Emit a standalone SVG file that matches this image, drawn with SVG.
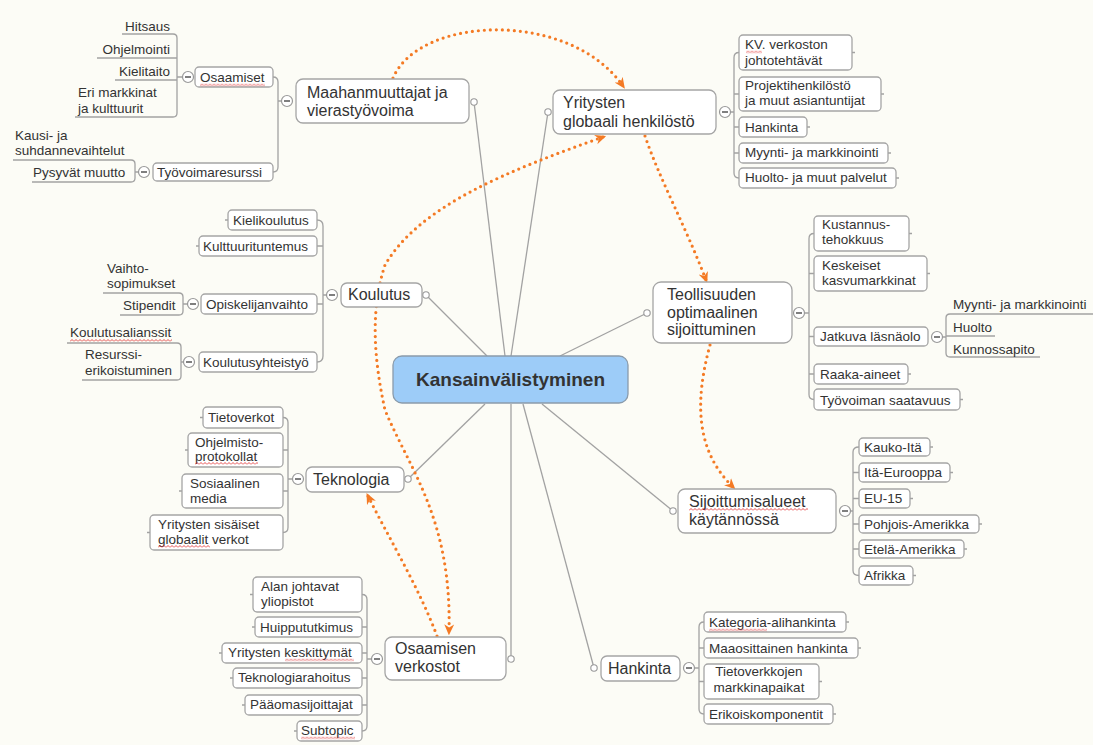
<svg xmlns="http://www.w3.org/2000/svg" width="1093" height="745" viewBox="0 0 1093 745">
<defs>
<style>
text{font-family:"Liberation Sans",Arial,sans-serif;fill:#333;}
.t16{font-size:16px;}
.t13{font-size:13.5px;}
.box{fill:#fff;stroke:#a5a5a5;stroke-width:1.3;}
.ln{fill:none;stroke:#a2a2a2;stroke-width:1.3;}
.rel{fill:none;stroke:#f47a24;stroke-width:3.2;stroke-dasharray:0 6;stroke-linecap:round;}
</style>
<marker id="ah" viewBox="0 0 10 10" refX="7" refY="5" markerWidth="11" markerHeight="11" markerUnits="userSpaceOnUse" orient="auto-start-reverse">
<path d="M0,0.5 L10,5 L0,9.5 L3,5 Z" fill="#f47a24"/>
</marker>
<g id="minus"><circle r="5.5" fill="#fff" stroke="#999" stroke-width="1.2"/><path d="M-3,0H3" stroke="#555" stroke-width="1.5"/></g>
<circle id="dot" r="3.2" fill="#fff" stroke="#999" stroke-width="1.1"/>
<pattern id="sq" patternUnits="userSpaceOnUse" width="4" height="3"><path d="M0,2.5 L2,0.5 L4,2.5" fill="none" stroke="#e02020" stroke-width="0.8"/></pattern>
</defs>
<rect width="1093" height="745" fill="#fcfcf6"/>

<g id="connectors">
<path class="ln" d="M474,102 L505,356"/>
<path class="ln" d="M548,112 L511,356"/>
<path class="ln" d="M426,295 L487,356"/>
<path class="ln" d="M647,313 L560,356"/>
<path class="ln" d="M408,479 L485,404"/>
<path class="ln" d="M511,656 L511,404"/>
<path class="ln" d="M594,668 L523,404"/>
<path class="ln" d="M673,511 L542,404"/>
<!-- Maahanmuuttajat brackets -->
<path class="ln" d="M273,77 Q278,77 278,82 V167 Q278,172 273,172 M278,101 H281.5"/>
<path class="ln" d="M122,34 H173 Q177,34 177,38 V113 Q177,117 173,117 H75 M97,58 H177 M115,80 H177 M177,77 H182.5"/>
<path class="ln" d="M13,160 H131 Q135,160 135,164 V178 Q135,182 131,182 H32 M135,172 H138.5"/>
<!-- Yritysten bracket -->
<path class="ln" d="M739,52.5 Q734,52.5 734,57.5 V173 Q734,178 739,178 M734,94 H739 M734,127 H739 M734,153 H739 M730.5,112 H734"/>
<!-- Koulutus brackets -->
<path class="ln" d="M317,220 Q323,220 323,226 V356 Q323,362 317,362 M323,246 H317 M323,304 H317 M323,295 H326.5"/>
<path class="ln" d="M103,293 H179 Q183,293 183,297 V311 Q183,315 179,315 H120 M183,304 H187.5"/>
<path class="ln" d="M67,343 H177 Q181,343 181,347 V376 Q181,380 177,380 H82 M181,362 H183.5"/>
<!-- Teollisuuden brackets -->
<path class="ln" d="M814,233.5 Q809,233.5 809,238.5 V394.5 Q809,399.5 814,399.5 M809,273.5 H814 M809,336.5 H814 M809,374 H814 M804.5,313 H809"/>
<path class="ln" d="M1093,314 H950 Q946,314 946,318 V353 Q946,357 950,357 H1040 M946,336 H995 M942.5,337 H946"/>
<!-- Sijoittumisalueet bracket -->
<path class="ln" d="M859,447 Q853,447 853,452 V570.5 Q853,575.5 859,575.5 M853,472.5 H859 M853,498.5 H859 M853,524 H859 M853,549 H859 M850.5,511 H853"/>
<!-- Teknologia bracket -->
<path class="ln" d="M283,417.5 Q288,417.5 288,422.5 V527.5 Q288,532.5 283,532.5 M288,450 H283 M288,491 H283 M288,479 H292.5"/>
<!-- Osaamisen bracket -->
<path class="ln" d="M362,594.5 Q367,594.5 367,599.5 V726 Q367,731 362,731 M367,627 H362 M367,653 H362 M367,678 H362 M367,705 H362 M367,659 H371.5"/>
<!-- Hankinta bracket -->
<path class="ln" d="M704,622 Q699,622 699,627 V709 Q699,714 704,714 M699,648 H704 M699,681.5 H704 M694.5,668 H699"/>
<!-- stubs -->
<path class="ln" d="M852,52.5h3 M881,94h3 M807,127h3 M888,153h3 M896,178h3 M909,233.5h3 M927,273.5h3 M908,374h3 M960,399.5h3 M930,447h3 M950,472.5h3 M910,498.5h3 M979,524h3 M964,549h3 M913,575.5h3 M846,622h3 M858,648h3 M819,681.5h3 M833,714h3 M228,220h-3 M199,246h-3 M203,417.5h-3 M188,450h-3 M182,491h-3 M150,532.5h-3 M253,594.5h-3 M255,627h-3 M222,653h-3 M233,678h-3 M245,705h-3 M297,731h-3"/>
<!-- relationships -->
<path class="rel" d="M393,78 C420,15 570,10 623,86" marker-end="url(#ah)"/>
<path class="rel" d="M645,136 C660,180 685,225 706,280" marker-end="url(#ah)"/>
<path class="rel" d="M710,345 C695,400 695,450 733,487" marker-end="url(#ah)"/>
<path class="rel" d="M603,137 C510,170 420,205 385,265 C370,310 374,360 385,410 C410,470 452,520 449,632" marker-start="url(#ah)" marker-end="url(#ah)"/>
<path class="rel" d="M437,636 C420,590 390,540 368,496" marker-end="url(#ah)"/>
</g>

<g id="center">
<rect x="393" y="356" width="235" height="47" rx="9" fill="#9dccf8" stroke="#8a9bab" stroke-width="1.3"/>
<text x="510.5" y="386" text-anchor="middle" font-weight="bold" font-size="19">Kansainvälistyminen</text>
</g>

<g id="maahanmuuttajat">
<rect class="box" x="296" y="79" width="173" height="44" rx="7"/>
<text class="t16" x="307" y="98">Maahanmuuttajat ja</text>
<text class="t16" x="307" y="116">vierastyövoima</text>
<use href="#minus" x="287" y="101"/><use href="#dot" x="474" y="102"/>
</g>
<g id="osaamiset">
<rect class="box" x="195" y="67" width="78" height="20" rx="4"/>
<text class="t13" x="200" y="82">Osaamiset</text>
<rect transform="translate(200,83.5)" width="65" height="3" fill="url(#sq)"/>
<use href="#minus" x="188" y="77"/>
</g>
<g id="osaamiset-leaves">
<text class="t13" x="170" y="31" text-anchor="end">Hitsaus</text>
<text class="t13" x="170" y="54" text-anchor="end">Ohjelmointi</text>
<text class="t13" x="170" y="76" text-anchor="end">Kielitaito</text>
<text class="t13" x="78" y="97">Eri markkinat</text>
<text class="t13" x="78" y="113">ja kulttuurit</text>
</g>
<g id="tyovoimaresurssi">
<rect class="box" x="153" y="163" width="120" height="18" rx="4"/>
<text class="t13" x="157" y="177">Työvoimaresurssi</text>
<use href="#minus" x="144" y="172"/>
</g>
<g id="tyovoima-leaves">
<text class="t13" x="15" y="140">Kausi- ja</text>
<text class="t13" x="15" y="155">suhdannevaihtelut</text>
<text class="t13" x="33" y="177">Pysyvät muutto</text>
</g>

<g id="yritysten">
<rect class="box" x="553" y="90" width="163" height="44" rx="7"/>
<text class="t16" x="563" y="108">Yritysten</text>
<text class="t16" x="563" y="127">globaali henkilöstö</text>
<use href="#minus" x="725" y="112"/><use href="#dot" x="548" y="112"/>
</g>
<g id="yritysten-children">
<rect class="box" x="739" y="35" width="113" height="35" rx="4"/>
<text class="t13" x="745" y="49">KV. verkoston</text>
<text class="t13" x="745" y="65">johtotehtävät</text>
<rect transform="translate(746,50.5)" width="16" height="3" fill="url(#sq)"/>
<rect class="box" x="739" y="77" width="142" height="34" rx="4"/>
<text class="t13" x="745" y="90">Projektihenkilöstö</text>
<text class="t13" x="745" y="105">ja muut asiantuntijat</text>
<rect class="box" x="739" y="117" width="68" height="20" rx="4"/>
<text class="t13" x="745" y="132">Hankinta</text>
<rect class="box" x="739" y="143" width="149" height="20" rx="4"/>
<text class="t13" x="745" y="157">Myynti- ja markkinointi</text>
<rect class="box" x="739" y="168" width="157" height="20" rx="4"/>
<text class="t13" x="745" y="182">Huolto- ja muut palvelut</text>
</g>

<g id="koulutus">
<rect class="box" x="341" y="283" width="81" height="24" rx="6"/>
<text class="t16" x="348" y="300">Koulutus</text>
<use href="#minus" x="332" y="295"/><use href="#dot" x="426" y="295"/>
</g>
<g id="koulutus-children">
<rect class="box" x="228" y="210" width="89" height="20" rx="4"/>
<text class="t13" x="233" y="225">Kielikoulutus</text>
<rect class="box" x="199" y="236" width="118" height="20" rx="4"/>
<text class="t13" x="203" y="251">Kulttuurituntemus</text>
<rect class="box" x="201" y="294" width="116" height="20" rx="4"/>
<text class="t13" x="206" y="309">Opiskelijanvaihto</text>
<use href="#minus" x="193" y="304"/>
<rect class="box" x="199" y="352" width="118" height="20" rx="4"/>
<text class="t13" x="203" y="367">Koulutusyhteistyö</text>
<use href="#minus" x="189" y="362"/>
</g>
<g id="koulutus-leaves">
<text class="t13" x="107" y="273">Vaihto-</text>
<text class="t13" x="107" y="288">sopimukset</text>
<text class="t13" x="123" y="310">Stipendit</text>
<text class="t13" x="70" y="337">Koulutusalianssit</text>
<rect transform="translate(70,339)" width="102" height="3" fill="url(#sq)"/>
<text class="t13" x="85" y="359">Resurssi-</text>
<text class="t13" x="85" y="375">erikoistuminen</text>
</g>

<g id="teollisuuden">
<rect class="box" x="653" y="282" width="139" height="61" rx="8"/>
<text class="t16" x="667" y="300">Teollisuuden</text>
<text class="t16" x="667" y="317.5">optimaalinen</text>
<text class="t16" x="667" y="335">sijoittuminen</text>
<use href="#minus" x="799" y="313"/><use href="#dot" x="647" y="313"/>
</g>
<g id="teollisuuden-children">
<rect class="box" x="814" y="216" width="95" height="35" rx="4"/>
<text class="t13" x="822" y="229">Kustannus-</text>
<text class="t13" x="822" y="244">tehokkuus</text>
<rect class="box" x="814" y="256" width="113" height="35" rx="4"/>
<text class="t13" x="822" y="270">Keskeiset</text>
<text class="t13" x="822" y="285">kasvumarkkinat</text>
<rect class="box" x="814" y="327" width="114" height="19" rx="4"/>
<text class="t13" x="820" y="341">Jatkuva läsnäolo</text>
<use href="#minus" x="937" y="337"/>
<rect class="box" x="814" y="364" width="94" height="20" rx="4"/>
<text class="t13" x="820" y="379">Raaka-aineet</text>
<rect class="box" x="814" y="389" width="146" height="21" rx="4"/>
<text class="t13" x="820" y="405">Työvoiman saatavuus</text>
</g>
<g id="jatkuva-leaves">
<text class="t13" x="953" y="309">Myynti- ja markkinointi</text>
<text class="t13" x="953" y="332">Huolto</text>
<text class="t13" x="953" y="354">Kunnossapito</text>
</g>

<g id="sijoittumisalueet">
<rect class="box" x="678" y="489" width="158" height="44" rx="7"/>
<text class="t16" x="689" y="507">Sijoittumisalueet</text>
<text class="t16" x="689" y="525">käytännössä</text>
<rect transform="translate(689,508)" width="119" height="3" fill="url(#sq)"/>
<use href="#minus" x="845" y="511"/><use href="#dot" x="673" y="511"/>
</g>
<g id="sijoittumisalueet-children">
<rect class="box" x="859" y="438" width="71" height="18" rx="4"/>
<text class="t13" x="864" y="452">Kauko-Itä</text>
<rect class="box" x="859" y="463" width="91" height="19" rx="4"/>
<text class="t13" x="864" y="477">Itä-Eurooppa</text>
<rect class="box" x="859" y="489" width="51" height="19" rx="4"/>
<text class="t13" x="864" y="503">EU-15</text>
<rect class="box" x="859" y="515" width="120" height="18" rx="4"/>
<text class="t13" x="864" y="529">Pohjois-Amerikka</text>
<rect class="box" x="859" y="540" width="105" height="18" rx="4"/>
<text class="t13" x="864" y="554">Etelä-Amerikka</text>
<rect class="box" x="859" y="566" width="54" height="19" rx="4"/>
<text class="t13" x="864" y="580">Afrikka</text>
</g>

<g id="teknologia">
<rect class="box" x="306" y="467" width="98" height="25" rx="6"/>
<text class="t16" x="313" y="485">Teknologia</text>
<use href="#minus" x="298" y="479"/><use href="#dot" x="408" y="479"/>
</g>
<g id="teknologia-children">
<rect class="box" x="203" y="407" width="80" height="21" rx="4"/>
<text class="t13" x="208" y="422">Tietoverkot</text>
<rect class="box" x="188" y="433" width="95" height="34" rx="4"/>
<text class="t13" x="195" y="447">Ohjelmisto-</text>
<text class="t13" x="195" y="461">protokollat</text>
<rect transform="translate(195,462)" width="63" height="3" fill="url(#sq)"/>
<rect class="box" x="182" y="474" width="101" height="34" rx="4"/>
<text class="t13" x="190" y="488">Sosiaalinen</text>
<text class="t13" x="190" y="503">media</text>
<rect class="box" x="150" y="515" width="133" height="35" rx="4"/>
<text class="t13" x="158" y="529">Yritysten sisäiset</text>
<text class="t13" x="158" y="544">globaalit verkot</text>
<rect transform="translate(158,545)" width="52" height="3" fill="url(#sq)"/>
</g>

<g id="osaamisen-verkostot">
<rect class="box" x="385" y="637" width="121" height="43" rx="7"/>
<text class="t16" x="395" y="654">Osaamisen</text>
<text class="t16" x="395" y="672">verkostot</text>
<use href="#minus" x="377" y="659"/><use href="#dot" x="511" y="659"/>
</g>
<g id="osaamisen-children">
<rect class="box" x="253" y="577" width="109" height="35" rx="4"/>
<text class="t13" x="261" y="591">Alan johtavat</text>
<text class="t13" x="261" y="606">yliopistot</text>
<rect class="box" x="255" y="617" width="107" height="20" rx="4"/>
<text class="t13" x="260" y="632">Huippututkimus</text>
<rect class="box" x="222" y="643" width="140" height="20" rx="4"/>
<text class="t13" x="228" y="657">Yritysten keskittymät</text>
<rect transform="translate(285,658.5)" width="69" height="3" fill="url(#sq)"/>
<rect class="box" x="233" y="668" width="129" height="20" rx="4"/>
<text class="t13" x="238" y="682">Teknologiarahoitus</text>
<rect class="box" x="245" y="695" width="117" height="20" rx="4"/>
<text class="t13" x="250" y="709">Pääomasijoittajat</text>
<rect class="box" x="297" y="721" width="65" height="20" rx="4"/>
<text class="t13" x="301" y="735">Subtopic</text>
<rect transform="translate(301,736.5)" width="54" height="3" fill="url(#sq)"/>
</g>

<g id="hankinta">
<rect class="box" x="601" y="656" width="79" height="25" rx="6"/>
<text class="t16" x="608" y="674">Hankinta</text>
<use href="#minus" x="689" y="668"/><use href="#dot" x="594" y="668"/>
</g>
<g id="hankinta-children">
<rect class="box" x="704" y="612" width="142" height="20" rx="4"/>
<text class="t13" x="709" y="627">Kategoria-alihankinta</text>
<rect transform="translate(709,628.5)" width="58" height="3" fill="url(#sq)"/>
<rect class="box" x="704" y="638" width="154" height="20" rx="4"/>
<text class="t13" x="709" y="653">Maaosittainen hankinta</text>
<rect class="box" x="704" y="664" width="115" height="35" rx="4"/>
<text class="t13" x="759" y="676" text-anchor="middle">Tietoverkkojen</text>
<text class="t13" x="759" y="692" text-anchor="middle">markkinapaikat</text>
<rect class="box" x="704" y="704" width="129" height="20" rx="4"/>
<text class="t13" x="709" y="719">Erikoiskomponentit</text>
</g>
</svg>
